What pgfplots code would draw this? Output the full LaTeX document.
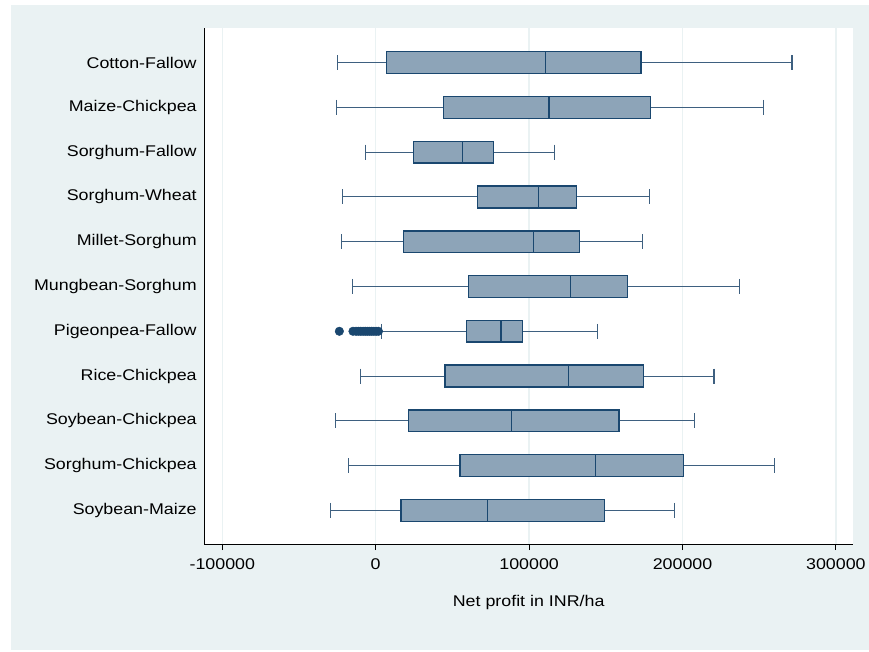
\documentclass[border=0pt]{standalone}
\usepackage{fontspec}
\setmainfont{Liberation Sans}[FakeStretch=1.15]
\usepackage{pgfplots}
\pgfplotsset{compat=1.18}
\usepgfplotslibrary{statistics}
\definecolor{bgc}{RGB}{234,242,243}
\definecolor{navy}{RGB}{26,71,111}
\definecolor{boxf}{RGB}{141,164,184}
\definecolor{whisk}{RGB}{62,96,128}
\newcommand{\bp}[6]{\addplot[boxplot prepared={draw position=#1, lower whisker=#2, lower quartile=#3, median=#4, upper quartile=#5, upper whisker=#6}] coordinates {};}
\begin{document}
\fontsize{15.5}{18}\selectfont
\begin{tikzpicture}
\path[use as bounding box] (0,0) rectangle (869pt,651pt);
\fill[white] (0,0) rectangle (869pt,651pt);
\fill[bgc] (11pt,1pt) rectangle (869pt,646pt);
\begin{axis}[
  at={(204pt,107pt)}, anchor=south west,
  scale only axis, width=649.3pt, height=516pt,
  xmin=-111930, xmax=311340,
  ymin=0.227, ymax=11.751, y dir=reverse,
  axis lines*=left,
  axis line style={black, line width=0.9pt},
  axis background/.style={fill=white},
  xtick={-100000,0,100000,200000,300000},
  xticklabels={-100000,0,100000,200000,300000},
  xtick align=outside, major tick length=6pt,
  xtick style={black, line width=0.9pt},
  xmajorgrids, major grid style={draw=bgc, line width=1.4pt},
  ytick={1,...,11},
  yticklabels={Cotton-Fallow,Maize-Chickpea,Sorghum-Fallow,Sorghum-Wheat,Millet-Sorghum,Mungbean-Sorghum,Pigeonpea-Fallow,Rice-Chickpea,Soybean-Chickpea,Sorghum-Chickpea,Soybean-Maize},
  ytick style={draw=none},
  yticklabel style={xshift=-2pt},
  xticklabel style={yshift=-3.5pt},
  scaled x ticks=false,
  ticklabel style={font=\fontsize{15.5}{18}\selectfont},
  xlabel={Net profit in INR/ha},
  xlabel style={at={(axis description cs:0.5,0)}, anchor=center, yshift=-58pt, font=\fontsize{15.5}{18}\selectfont},
  clip=false,
  boxplot/box extend=0.485,
  boxplot/whisker extend=0.335,
  boxplot/every box/.style={draw=navy, fill=boxf, line width=1.4pt},
  boxplot/every median/.style={draw=navy, line width=1.4pt},
  boxplot/every whisker/.style={draw=whisk, line width=1.1pt},
]
\bp{1}{-24800}{6900}{110600}{173000}{271400}
\bp{2}{-25400}{44100}{113000}{179000}{252500}
\bp{3}{-6800}{24500}{56700}{76900}{116400}
\bp{4}{-21500}{66500}{106300}{130800}{178600}
\bp{5}{-22400}{18000}{102700}{132700}{173800}
\bp{6}{-15400}{60400}{127100}{164300}{237300}
\bp{7}{3500}{59100}{81700}{95800}{144500}
\bp{8}{-10000}{45200}{125600}{174500}{220500}
\bp{9}{-26500}{21500}{88400}{158600}{207700}
\bp{10}{-17600}{55000}{143400}{200800}{259800}
\bp{11}{-29300}{16500}{73000}{149300}{194700}
\addplot[only marks, mark=*, mark size=4.3pt, color=navy, mark options={fill=navy, draw=navy}] coordinates {
(-23700,7) (-14800,7) (-12800,7) (-11200,7) (-9700,7) (-8200,7) (-6800,7) (-5400,7) (-4000,7) (-2600,7) (-1200,7) (300,7) (1800,7)
};
\end{axis}
\end{tikzpicture}
\end{document}
